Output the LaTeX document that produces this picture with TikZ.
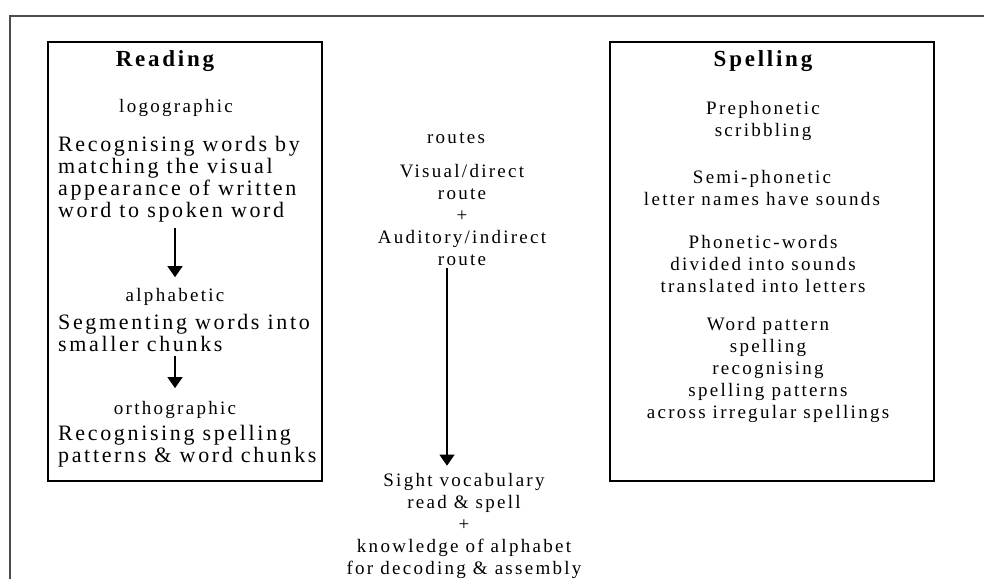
\documentclass[tikz,border=0pt]{standalone}
\usepackage{fontspec}
\setmainfont{Liberation Serif}[LetterSpace=12]
\usetikzlibrary{arrows.meta}
\begin{document}
\begin{tikzpicture}[x=1pt, y=-1pt,
  every node/.style={font=\fontsize{19}{22}\selectfont, inner sep=0pt, align=center},
  headtext/.style={font=\fontsize{23}{26}\selectfont\bfseries},
  desctext/.style={font=\fontsize{22}{22}\selectfont, anchor=west, align=left},
  stagebox/.style={draw, line width=2pt},
  stagearrow/.style={-{Triangle[width=15pt,length=11pt]}, line width=1.3pt}]
  \useasboundingbox (0,0) rectangle (984,579);
  % outer frame
  \draw[line width=1.5pt, black!70] (10,579) -- (10,16) -- (984,16);
  % Reading box
  \draw[stagebox] (48,42) rectangle (322,481);
  \node[headtext] (reading) at (165,61) {Reading};
  \node (logo) at (176,108) {logographic};
  \node[desctext] (logotext) at (58,179) {Recognising words by\\matching the visual\\appearance of written\\word to spoken word};
  \node (alpha) at (175,297) {alphabetic};
  \node[desctext] (alphatext) at (58,333) {Segmenting words into\\smaller chunks};
  \node (ortho) at (175,410) {orthographic};
  \node[desctext] (orthotext) at (58,446) {Recognising spelling\\patterns \& word chunks};
  % Spelling box
  \draw[stagebox] (610,42) rectangle (934,481);
  \node[headtext] (spelling) at (763,61) {Spelling};
  \node (preph) at (763,121) {Prephonetic\\scribbling};
  \node (semi) at (762,188) {Semi-phonetic\\letter names have sounds};
  \node (phon) at (763,264) {Phonetic-words\\divided into sounds\\translated into letters};
  \node (wordpat) at (768,370) {Word pattern\\spelling\\recognising\\spelling patterns\\across irregular spellings};
  % routes in the middle
  \node (routes) at (456,138) {routes};
  \node (visroute) at (462,214.5) {Visual/direct\\route\\+\\Auditory/indirect\\route};
  \node (sight) at (464,525.5) {Sight vocabulary\\read \& spell\\+\\knowledge of alphabet\\for decoding \& assembly};
  % Arrows
  \draw[stagearrow, shorten <=6pt, shorten >=11pt] (alpha.north |- logotext.south) -- (alpha.north);
  \draw[stagearrow, shorten <=4pt, shorten >=13pt] (ortho.north |- alphatext.south) -- (ortho.north);
  \draw[stagearrow, shorten <=3pt, shorten >=7pt] ([xshift=-15pt]visroute.south) -- ([xshift=-17pt]sight.north);
\end{tikzpicture}
\end{document}
